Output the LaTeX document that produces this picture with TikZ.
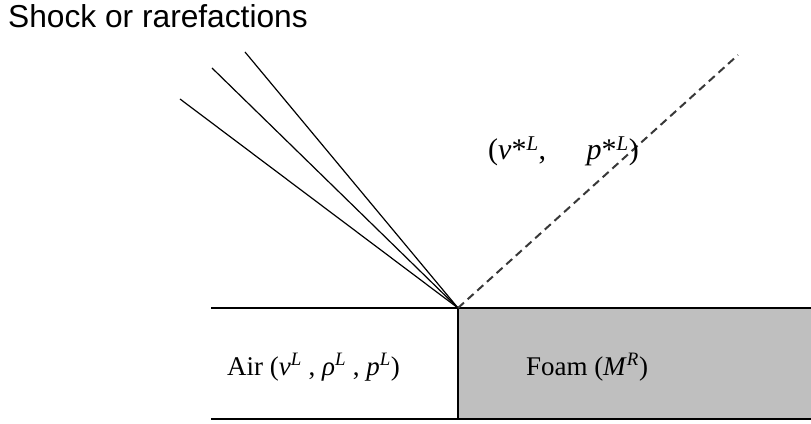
\documentclass[tikz,border=0pt]{standalone}
\usepackage{fontspec}
\setmainfont{Liberation Serif}
\newfontfamily\labelsans{Liberation Sans}
\begin{document}
\begin{tikzpicture}[x=1pt,y=1pt,
  wall/.style={line width=1.3pt,black},
  wave/.style={line width=1.2pt,black},
  contact/.style={line width=2pt,black!78,dash pattern=on 8pt off 5pt},
  lbl/.style={inner sep=0pt,font=\fontsize{27}{30}\selectfont}]
\useasboundingbox (0,0) rectangle (811,423);
% foam region
\fill[black!25] (458,4) rectangle (811,115);
% coordinates
\coordinate (apex) at (458,115);
\coordinate (w1) at (180,324);
\coordinate (w2) at (212,355);
\coordinate (w3) at (245,371);
\coordinate (c) at (738,368);
\coordinate (tl) at (211,115);
\coordinate (tr) at (811,115);
\coordinate (bl) at (211,4);
\coordinate (br) at (811,4);
\coordinate (db) at (458,4);
% walls
\draw[wall] (tl) -- (tr);
\draw[wall] (bl) -- (br);
\draw[wall] (apex) -- (db);
% waves
\draw[wave] (apex) -- (w1);
\draw[wave] (apex) -- (w2);
\draw[wave] (apex) -- (w3);
\draw[contact] (apex) -- (c);
% labels
\node[anchor=base west,inner sep=0pt,font=\labelsans\fontsize{31.7}{34}\selectfont] (title) at (8,395) {Shock or rarefactions};
\node[inner sep=0pt,font=\fontsize{30}{33}\selectfont,anchor=base west] (star) at (488,263) {(\textit{v}*\textsuperscript{\textit{L}},\hspace{1.35em}\textit{p}*\textsuperscript{\textit{L}})};
\node[lbl,anchor=base west] (air) at (227,48) {Air (\textit{v}\textsuperscript{\textit{L}} , \textit{ρ}\textsuperscript{\textit{L}} , \textit{p}\textsuperscript{\textit{L}})};
\node[lbl,anchor=base] (foam) at (587,48) {Foam (\textit{M}\textsuperscript{\textit{R}})};
\end{tikzpicture}
\end{document}
